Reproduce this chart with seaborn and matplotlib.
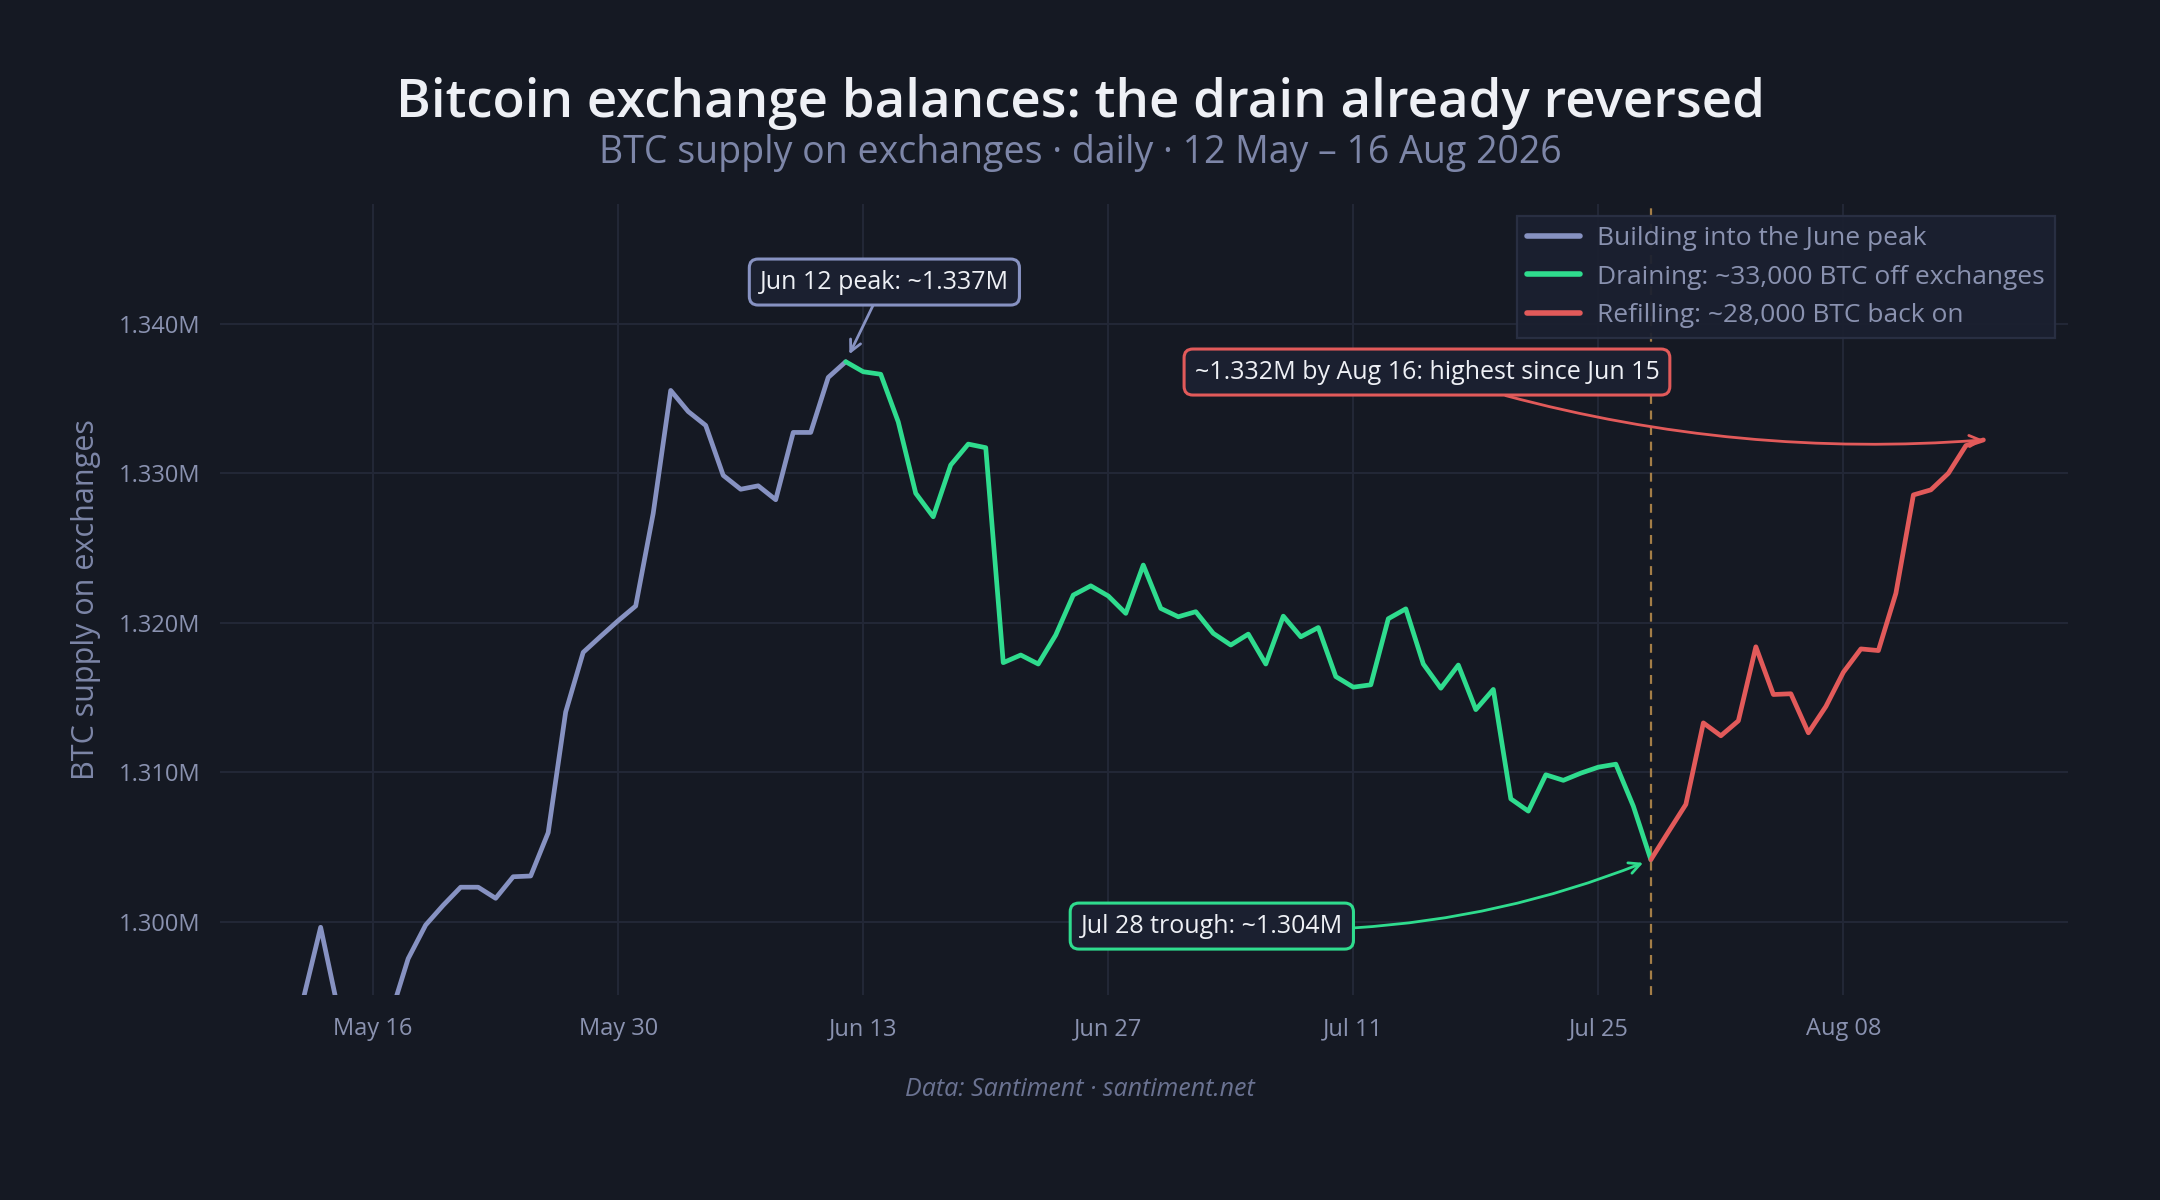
import matplotlib
matplotlib.use("Agg")
import numpy as np
import pandas as pd
import seaborn as sns
import matplotlib.pyplot as plt
import matplotlib.dates as mdates
from matplotlib.ticker import FuncFormatter
from matplotlib.lines import Line2D

# ---------------- data ----------------
dates = pd.date_range("2026-05-12", "2026-08-16", freq="D")
supply_m = [
    # May 12 - May 31
    1.2948, 1.29963, 1.29412, 1.2932, 1.2928, 1.29376, 1.29753, 1.29978, 1.30110, 1.30231,
    1.30231, 1.30157, 1.30301, 1.30306, 1.30596, 1.31403, 1.31802, 1.31909, 1.32014, 1.32112,
    # Jun 1 - Jun 30
    1.32731, 1.33554, 1.33413, 1.33320, 1.32986, 1.32893, 1.32916, 1.32823, 1.33273, 1.33273,
    1.33641, 1.33746, 1.33679, 1.33662, 1.33344, 1.32866, 1.32709, 1.33055, 1.33195, 1.33171,
    1.31733, 1.31784, 1.31724, 1.31918, 1.32185, 1.32247, 1.32179, 1.32063, 1.32386, 1.32096,
    # Jul 1 - Jul 31
    1.32040, 1.32074, 1.31929, 1.31851, 1.31924, 1.31724, 1.32044, 1.31906, 1.31968, 1.31640,
    1.31569, 1.31585, 1.32027, 1.32093, 1.31724, 1.31562, 1.31717, 1.31419, 1.31554, 1.30822,
    1.30740, 1.30983, 1.30946, 1.30994, 1.31034, 1.31054, 1.30773, 1.30415, 1.30601, 1.30785,
    1.31330,
    # Aug 1 - Aug 16
    1.31244, 1.31344, 1.31839, 1.31520, 1.31525, 1.31264, 1.31440, 1.31669, 1.31825, 1.31814,
    1.32197, 1.32855, 1.32889, 1.33000, 1.33185, 1.33223,
]
supply = np.array(supply_m) * 1e6
assert len(supply) == len(dates)

phase_names = [
    "Building into the June peak",
    "Draining: ~33,000 BTC off exchanges",
    "Refilling: ~28,000 BTC back on",
]
peak_date = pd.Timestamp("2026-06-12")
trough_date = pd.Timestamp("2026-07-28")
phase_colors = ["#8792c2", "#2fdc8e", "#e25a5a"]

y_ticks = [1.300e6, 1.310e6, 1.320e6, 1.330e6, 1.340e6]
x_ticks = pd.to_datetime(["2026-05-16", "2026-05-30", "2026-06-13", "2026-06-27",
                          "2026-07-11", "2026-07-25", "2026-08-08"])

df = pd.DataFrame({"date": dates, "supply": supply})
seg1 = df[df.date <= peak_date].assign(phase=phase_names[0])
seg2 = df[(df.date >= peak_date) & (df.date <= trough_date)].assign(phase=phase_names[1])
seg3 = df[df.date >= trough_date].assign(phase=phase_names[2])
long = pd.concat([seg1, seg2, seg3], ignore_index=True)

# ---------------- style ----------------
BG = "#151923"
GRID = "#232837"
MUTED = "#7d86a8"
TICK = "#8a92b0"
TXT = "#eef0f5"
BOXFACE = "#1b2030"

sns.set_theme(style="dark")
plt.rcParams["font.family"] = ["Open Sans", "DejaVu Sans"]

fig = plt.figure(figsize=(10.8, 6.0), dpi=200, facecolor=BG)
ax = fig.add_axes([220 / 2160, 1 - 995 / 1200, (2068 - 220) / 2160, (995 - 204) / 1200])
ax.set_facecolor(BG)

sns.lineplot(data=long, x="date", y="supply", hue="phase", hue_order=phase_names,
             palette=phase_colors, linewidth=1.7, estimator=None, sort=False,
             ax=ax, legend=False, zorder=3)

# limits
ax.set_xlim(pd.Timestamp("2026-05-07 06:00"), pd.Timestamp("2026-08-20 20:00"))
ax.set_ylim(1.29510e6, 1.34801e6)

ax.set_yticks(y_ticks)
ax.yaxis.set_major_formatter(FuncFormatter(lambda v, p: f"{v/1e6:.3f}M"))
ax.set_xticks(x_ticks)
ax.xaxis.set_major_formatter(mdates.DateFormatter("%b %d"))

ax.grid(True, color=GRID, linewidth=0.7)
for s in ax.spines.values():
    s.set_visible(False)
ax.tick_params(axis="both", length=0, colors=TICK, labelsize=8.5)
ax.tick_params(axis="y", pad=7)
ax.tick_params(axis="x", pad=8)

ax.set_xlabel("")
ax.set_ylabel("BTC supply on exchanges", color=MUTED, fontsize=11)
ax.yaxis.set_label_coords(-0.0644, 0.5)

# vertical dashed line at trough
ax.axvline(trough_date, color="#b58a4c", linestyle=(0, (4, 3)), linewidth=0.8,
           alpha=0.9, zorder=2)

# legend
handles = [Line2D([0], [0], color=c, lw=2.0) for c in phase_colors]
leg = ax.legend(handles, phase_names, loc="upper right", bbox_to_anchor=(0.993, 0.985),
                borderaxespad=0, frameon=True, fontsize=9.5, labelcolor=TICK,
                handlelength=2.0, handletextpad=0.65, labelspacing=0.52,
                borderpad=0.38, fancybox=False)
leg.get_frame().set_facecolor(BOXFACE)
leg.get_frame().set_edgecolor("#2a3044")
leg.get_frame().set_linewidth(0.8)
leg.get_frame().set_alpha(0.95)
leg.set_zorder(5)

# annotations
peak_val = df.loc[df.date == peak_date, "supply"].iloc[0]
trough_val = df.loc[df.date == trough_date, "supply"].iloc[0]
last_date = df.date.iloc[-1]
last_val = df.supply.iloc[-1]

def box(ec):
    return dict(boxstyle="round,pad=0.42,rounding_size=0.35", fc=BOXFACE, ec=ec, lw=1.1)

ax.annotate("Jun 12 peak: ~1.337M", xy=(peak_date, peak_val),
            xytext=(pd.Timestamp("2026-06-14 05:00"), 1.34279e6),
            ha="center", va="center", color=TXT, fontsize=9, bbox=box(phase_colors[0]),
            arrowprops=dict(arrowstyle="->", color=phase_colors[0], lw=1.0,
                            shrinkA=0, shrinkB=3, mutation_scale=10), zorder=6)

ax.annotate("Jul 28 trough: ~1.304M", xy=(trough_date, trough_val),
            xytext=(pd.Timestamp("2026-07-02 22:00"), 1.29971e6),
            ha="center", va="center", color=TXT, fontsize=9, bbox=box(phase_colors[1]),
            arrowprops=dict(arrowstyle="->", color=phase_colors[1], lw=1.0,
                            shrinkA=0, shrinkB=3, mutation_scale=10,
                            connectionstyle="arc3,rad=0.12"), zorder=6)

ax.annotate("~1.332M by Aug 16: highest since Jun 15", xy=(last_date, last_val),
            xytext=(pd.Timestamp("2026-07-15 05:00"), 1.33677e6),
            ha="center", va="center", color=TXT, fontsize=9, bbox=box(phase_colors[2]),
            arrowprops=dict(arrowstyle="->", color=phase_colors[2], lw=1.0,
                            shrinkA=0, shrinkB=0, mutation_scale=10,
                            connectionstyle="arc3,rad=0.1"), zorder=6)

# titles
fig.text(0.5, 1 - 103 / 1200, "Bitcoin exchange balances: the drain already reversed",
         ha="center", va="center", color=TXT, fontsize=19, fontweight="semibold")
fig.text(0.5, 1 - 153 / 1200, "BTC supply on exchanges \u00b7 daily \u00b7 12 May \u2013 16 Aug 2026",
         ha="center", va="center", color=MUTED, fontsize=13.5)
fig.text(0.5, 1 - 1090 / 1200, "Data: Santiment \u00b7 santiment.net",
         ha="center", va="center", color="#6b7392", fontsize=9, fontstyle="italic")

fig.savefig("out.png", dpi=200, facecolor=BG)
